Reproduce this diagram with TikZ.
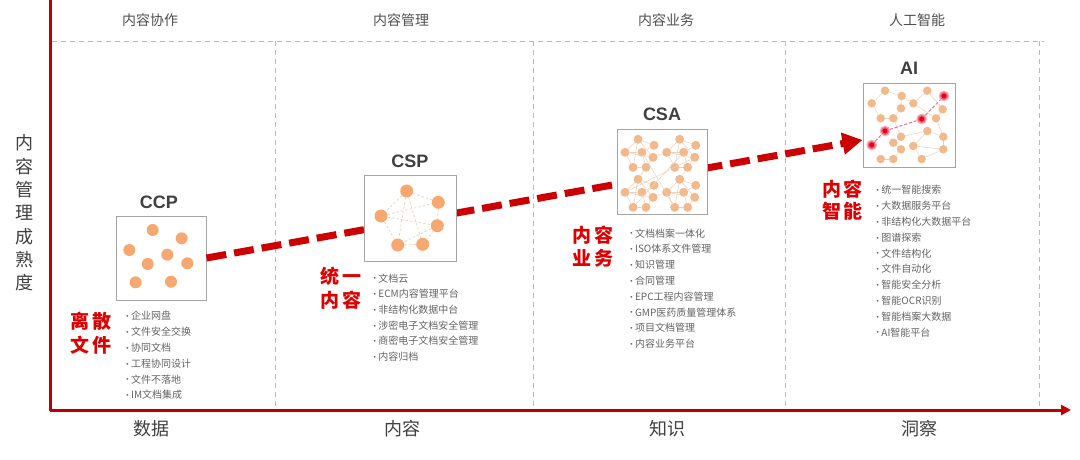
\documentclass[tikz,border=0pt]{standalone}
\usepackage{fontspec}
\setmainfont{Noto Sans CJK SC}
\newfontfamily\latinfont{Liberation Sans}
\usetikzlibrary{arrows.meta}
\definecolor{axisred}{RGB}{192,0,0}
\definecolor{arrred}{RGB}{204,0,0}
\definecolor{lblred}{RGB}{222,0,0}
\definecolor{gridgray}{RGB}{185,185,185}
\definecolor{boxgray}{RGB}{165,165,165}
\definecolor{dotor}{RGB}{247,168,112}
\definecolor{dotlt}{RGB}{242,186,140}
\definecolor{netln}{RGB}{238,208,185}
\definecolor{txtgray}{RGB}{100,100,100}
\definecolor{hdgray}{RGB}{80,80,80}
\definecolor{ttlgray}{RGB}{64,64,64}
\definecolor{reddot}{RGB}{228,0,30}
\definecolor{redhalo}{RGB}{245,140,150}
\definecolor{pinkln}{RGB}{215,120,140}
\newcommand{\bul}{\raisebox{1.2pt}{\fontsize{6.5}{7}\selectfont\latinfont\textbullet}\hspace{2.5pt}}
\begin{document}
\begin{tikzpicture}[x=1pt,y=-1pt,
  gridline/.style={draw=gridgray, line width=0.8pt, dash pattern=on 5pt off 4pt},
  axisline/.style={draw=axisred, line width=3pt, line join=round, -{Triangle[length=10pt,width=10pt]}},
  bigarrow/.style={draw=arrred, line width=7pt, dash pattern=on 20pt off 8pt, -{Triangle[length=20pt,width=21pt]}},
  boxsty/.style={draw=boxgray, line width=1pt, fill=white, inner sep=0pt},
  ttl/.style={font=\latinfont\bfseries\fontsize{18}{20}\selectfont, text=ttlgray, inner sep=0pt, anchor=base},
  hdr/.style={font=\fontsize{14}{16}\selectfont, text=hdgray, anchor=base, inner sep=0pt},
  btm/.style={font=\fontsize{18}{20}\selectfont, text=ttlgray, anchor=base, inner sep=0pt},
  redl/.style={font=\bfseries\fontsize{19}{21}\selectfont, text=lblred, anchor=base, inner sep=0pt},
  listitem/.style={font=\fontsize{10}{12}\selectfont, text=txtgray, anchor=base west, inner sep=0pt},
  odot/.style={circle, fill=dotor, inner sep=0pt, minimum size=#1},
  ldot/.style={circle, fill=dotlt, inner sep=0pt, minimum size=#1},
  rdot/.style={circle, fill=reddot, inner sep=0pt, minimum size=8pt, draw=redhalo, draw opacity=0.7, line width=2.5pt},
  netdash/.style={draw=netln, line width=0.7pt, dash pattern=on 2.5pt off 2pt},
  netline/.style={draw=netln, line width=0.5pt},
  pinkdash/.style={draw=pinkln, line width=1pt, dash pattern=on 3pt off 2pt}
]
\useasboundingbox (0,0) rectangle (1080,459);
\fill[white] (0,0) rectangle (1080,459);

% grid
\coordinate (gl) at (52,41);
\coordinate (gr) at (1044,41);
\draw[gridline] (gl) -- (gr);
\foreach \x [count=\i] in {275.5,533.7,785.5,1039.3} {
  \coordinate (vt\i) at (\x,41);
  \coordinate (vb\i) at (\x,409);
  \draw[gridline] (vt\i) -- (vb\i);
}

% axes
\coordinate (ytop) at (50,0);
\coordinate (orig) at (50,410);
\coordinate (xend) at (1071,410);
\draw[axisline] (ytop) -- (orig) -- (xend);

% headers
\node[hdr] (h1) at (150,25.3) {内容协作};
\node[hdr] (h2) at (401,25.3) {内容管理};
\node[hdr] (h3) at (666,25.3) {内容业务};
\node[hdr] (h4) at (917,25.3) {人工智能};

% bottom labels
\node[btm] (b1) at (151,435.8) {数据};
\node[btm] (b2) at (402,435.8) {内容};
\node[btm] (b3) at (667,435.8) {知识};
\node[btm] (b4) at (919,435.8) {洞察};

% y label
\node[font=\fontsize{18}{23.3}\selectfont, text=ttlgray, align=center, inner sep=0pt] (ylab) at (25,213) {内\\容\\管\\理\\成\\熟\\度};

% arrow and boxes
\node[boxsty, minimum width=90pt, minimum height=84pt] (ccpbox) at (161,258) {};
\coordinate (tip) at (862.5,140);
\draw[bigarrow] (ccpbox.east) -- (tip);
\node[boxsty, minimum width=92pt, minimum height=86pt] (cspbox) at (410,218) {};
\node[boxsty, minimum width=90pt, minimum height=85pt] (csabox) at (662,171.5) {};
\node[boxsty, minimum width=92pt, minimum height=84pt] (aibox) at (909,125) {};

% titles
\node[ttl] (ccpt) at (159,208) {CCP};
\node[ttl] (cspt) at (410,167.5) {CSP};
\node[ttl] (csat) at (662,120.5) {CSA};
\node[ttl] (ait) at (909,74.7) {AI};

% CCP dots
\foreach \p [count=\i] in {(152.7,230),(181.7,238.3),(129.3,250),(167.3,254.7),(147.7,264),(187.3,263.3),(135.7,282.3),(171,281.7)}
  \node[odot=12pt] (ccpd\i) at \p {};

% CSP dots
\foreach \p [count=\i] in {(406.7,191),(438.3,202.3),(381,216),(437.3,225.7),(397.7,245),(422.7,244.3)}
  \node[odot=13pt] (cspd\i) at \p {};
\foreach \a/\b in {1/2,1/3,2/4,3/4,3/2,4/6,5/6,3/5,1/5,1/6,4/5}
  \draw[netdash] (cspd\a) -- (cspd\b);

% CSA dots
\foreach \k/\ox/\oy in {1/625/139.3, 2/666.7/139.3, 3/625/179.3, 4/666.7/179.3} {
  \foreach \j/\dx/\dy in {1/13/0, 2/29/6, 3/0/13, 4/17/13, 5/28/18, 6/8/28, 7/21/28}
    \node[ldot=9pt] (csa\k\j) at ({\ox+\dx},{\oy+\dy}) {};
}
\foreach \k in {1,2,3,4} {
  \foreach \a/\b in {1/2,1/3,1/5,2/4,3/4,3/6,4/7,6/7,5/7,3/5,1/6}
    \draw[netline] (csa\k\a) -- (csa\k\b);
}
\foreach \a/\b in {csa15/csa23, csa35/csa43, csa17/csa31, csa27/csa41, csa14/csa46, csa24/csa36, csa25/csa33}
  \draw[netline] (\a) -- (\b);

% AI dots
\foreach \p [count=\i] in {(885,90.7),(901.7,96),(927.3,90.7),(871.7,103.3),(913.3,103.3),(901,108.3),(942.7,109.3),(880.7,118.3),(893.3,118.3),(936,118.3),(901,136.7),(927.3,131),(943.3,136.7),(893.3,142.7),(913.3,146),(901,149.3),(943.3,149.3),(880.7,159),(893.3,159),(921.7,159)}
  \node[ldot=8.5pt] (aid\i) at \p {};
\foreach \a/\b in {1/2,1/4,2/5,2/6,3/5,3/7,4/8,6/9,5/10,7/10,8/9,9/11,11/12,12/13,10/13,11/14,14/16,15/17,12/15,16/19,18/19,15/20,13/17,17/20}
  \draw[netline] (aid\a) -- (aid\b);
\node[rdot] (air1) at (871.7,145) {};
\node[rdot] (air2) at (885,131) {};
\node[rdot] (air3) at (921.7,119) {};
\node[rdot] (air4) at (944,96) {};
\draw[pinkdash] (air1) -- (air2);
\draw[pinkdash] (air2) -- (air3);
\draw[pinkdash] (air3) -- (air4);

% red labels
\node[redl] (r11) at (91,328.9) {离\hspace{3pt}散};
\node[redl] (r12) at (91,352.2) {文\hspace{3pt}件};
\node[redl] (r21) at (341,283.2) {统\hspace{3pt}一};
\node[redl] (r22) at (341,307.9) {内\hspace{3pt}容};
\node[redl] (r31) at (593,242.2) {内\hspace{3pt}容};
\node[redl] (r32) at (593,265.5) {业\hspace{3pt}务};
\node[redl] (r41) at (842.5,196.2) {内\hspace{3pt}容};
\node[redl] (r42) at (842.5,218.9) {智\hspace{3pt}能};

% lists
\foreach \t [count=\i from 0] in {企业网盘,文件安全交换,协同文档,工程协同设计,文件不落地,IM文档集成}
  \node[listitem] (ccpl\i) at (126.2,{319.8+15.8*\i}) {\bul\t};
\foreach \t [count=\i from 0] in {文档云,ECM内容管理平台,非结构化数据中台,涉密电子文档安全管理,商密电子文档安全管理,内容归档}
  \node[listitem] (cspl\i) at (373.5,{282.1+15.7*\i}) {\bul\t};
\foreach \t [count=\i from 0] in {文档档案一体化,ISO体系文件管理,知识管理,合同管理,EPC工程内容管理,GMP医药质量管理体系,项目文档管理,内容业务平台}
  \node[listitem] (csal\i) at (630.1,{237+15.8*\i}) {\bul\t};
\foreach \t [count=\i from 0] in {统一智能搜索,大数据服务平台,非结构化大数据平台,图谱探索,文件结构化,文件自动化,智能安全分析,智能OCR识别,智能档案大数据,AI智能平台}
  \node[listitem] (ail\i) at (876.5,{193.8+15.8*\i}) {\bul\t};
\end{tikzpicture}
\end{document}
